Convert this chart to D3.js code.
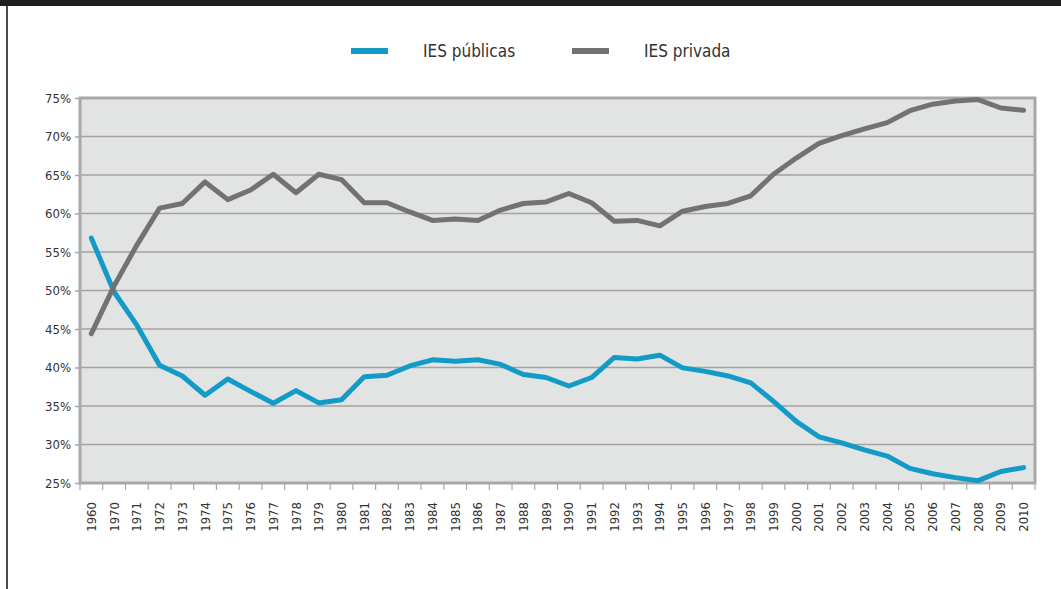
<!DOCTYPE html>
<html>
<head>
<meta charset="utf-8">
<script src="https://cdn.jsdelivr.net/npm/d3@7"></script>
<style>
  body { margin: 0; background: #fff; }
  svg text { font-family: "DejaVu Sans Condensed", "Liberation Sans Narrow", sans-serif; fill: #333; }
</style>
</head>
<body>
<div id="chart"></div>
<script>
let years = ["1960", "1970", "1971", "1972", "1973", "1974", "1975", "1976", "1977", "1978", "1979",
             "1980", "1981", "1982", "1983", "1984", "1985", "1986", "1987", "1988", "1989", "1990",
             "1991", "1992", "1993", "1994", "1995", "1996", "1997", "1998", "1999", "2000", "2001",
             "2002", "2003", "2004", "2005", "2006", "2007", "2008", "2009", "2010"];

let publicas = [56.8, 49.8, 45.5, 40.3, 38.9, 36.4, 38.5, 36.9, 35.35, 37.0, 35.4,
                35.8, 38.8, 39.0, 40.2, 41.0, 40.8, 41.0, 40.4, 39.1, 38.7, 37.6,
                38.7, 41.3, 41.1, 41.6, 39.95, 39.5, 38.9, 38.0, 35.6, 33.0, 31.0,
                30.2, 29.3, 28.5, 26.9, 26.2, 25.7, 25.3, 26.5, 27.0];

let privada = [44.4, 50.6, 55.9, 60.7, 61.3, 64.1, 61.8, 63.05, 65.1, 62.7, 65.1,
               64.4, 61.4, 61.4, 60.2, 59.1, 59.3, 59.1, 60.45, 61.3, 61.5, 62.6,
               61.4, 59.0, 59.1, 58.4, 60.3, 60.9, 61.3, 62.3, 65.1, 67.2, 69.1,
               70.1, 71.0, 71.8, 73.35, 74.2, 74.6, 74.8, 73.7, 73.4];

let y_ticks = [25, 30, 35, 40, 45, 50, 55, 60, 65, 70, 75];

let series = [
    {"name": "IES públicas", "values": publicas, "color": "#129bc6"},
    {"name": "IES privada", "values": privada, "color": "#727272"}
];

let width = 1061;
let height = 589;

let svg = d3.select("#chart")
    .append("svg")
    .attr("width", width)
    .attr("height", height);

// dark strip at the top and frame line on the left
svg.append("rect")
    .attr("x", 0).attr("y", 0)
    .attr("width", width).attr("height", 6)
    .attr("fill", "#1e1e1e");
svg.append("line")
    .attr("x1", 7).attr("x2", 7)
    .attr("y1", 6).attr("y2", height)
    .attr("stroke", "#111")
    .attr("stroke-width", 1.5);

let plot_left = 80;
let plot_right = 1035;
let plot_top = 98;
let plot_bottom = 483;

let xScale = d3.scaleBand()
    .domain(years)
    .range([plot_left, plot_right]);

let yScale = d3.scaleLinear()
    .domain([25, 75])
    .range([plot_bottom, plot_top]);

// plot background
svg.append("rect")
    .attr("x", plot_left)
    .attr("y", plot_top)
    .attr("width", plot_right - plot_left)
    .attr("height", plot_bottom - plot_top)
    .attr("fill", "#e2e4e3");

// horizontal grid
svg.selectAll(".grid")
    .data(y_ticks)
    .enter()
    .append("line")
    .attr("class", "grid")
    .attr("x1", plot_left)
    .attr("x2", plot_right)
    .attr("y1", function(d) { return yScale(d); })
    .attr("y2", function(d) { return yScale(d); })
    .attr("stroke", "#a2a2a2")
    .attr("stroke-width", 1.5);

// frame of the plot
svg.append("rect")
    .attr("x", plot_left)
    .attr("y", plot_top)
    .attr("width", plot_right - plot_left)
    .attr("height", plot_bottom - plot_top)
    .attr("fill", "none")
    .attr("stroke", "#a8a8a8")
    .attr("stroke-width", 3);

// y axis
let y_axis = svg.append("g")
    .attr("transform", "translate(" + plot_left + ",0)")
    .call(d3.axisLeft(yScale)
        .tickValues(y_ticks)
        .tickSize(5)
        .tickPadding(4)
        .tickFormat(function(d) { return d + "%"; }));
y_axis.select(".domain").remove();
y_axis.selectAll(".tick line").attr("stroke", "#a8a8a8").attr("stroke-width", 1.5);
y_axis.selectAll("text").attr("font-size", "13px").style("fill", "#333");

// x axis ticks at category boundaries
let boundaries = years.map(function(d) { return xScale(d); }).concat([plot_right]);
svg.selectAll(".xtick")
    .data(boundaries)
    .enter()
    .append("line")
    .attr("class", "xtick")
    .attr("x1", function(d) { return d; })
    .attr("x2", function(d) { return d; })
    .attr("y1", plot_bottom)
    .attr("y2", plot_bottom + 7)
    .attr("stroke", "#a8a8a8")
    .attr("stroke-width", 1.2);

svg.selectAll(".xlabel")
    .data(years)
    .enter()
    .append("text")
    .attr("class", "xlabel")
    .attr("transform", function(d) {
        let cx = xScale(d) + xScale.bandwidth() / 2;
        return "translate(" + cx + "," + (plot_bottom + 19) + ") rotate(-90)";
    })
    .attr("text-anchor", "end")
    .attr("dominant-baseline", "central")
    .attr("font-size", "13px")
    .text(function(d) { return d; });

// lines
let line = d3.line()
    .x(function(d, i) { return xScale(years[i]) + xScale.bandwidth() / 2; })
    .y(function(d) { return yScale(d); });

svg.selectAll(".series")
    .data(series)
    .enter()
    .append("path")
    .attr("class", "series")
    .attr("d", function(d) { return line(d.values); })
    .attr("fill", "none")
    .attr("stroke", function(d) { return d.color; })
    .attr("stroke-width", 5)
    .attr("stroke-linejoin", "round")
    .attr("stroke-linecap", "round");

// legend
let legend_x = [351, 572];
let legend = svg.selectAll(".legend")
    .data(series)
    .enter()
    .append("g")
    .attr("class", "legend")
    .attr("transform", function(d, i) { return "translate(" + legend_x[i] + ",51)"; });

legend.append("line")
    .attr("x1", 0).attr("x2", 37)
    .attr("y1", 0).attr("y2", 0)
    .attr("stroke", function(d) { return d.color; })
    .attr("stroke-width", 6);

legend.append("text")
    .attr("x", 72)
    .attr("y", 0)
    .attr("dominant-baseline", "central")
    .attr("font-size", "17px")
    .text(function(d) { return d.name; });
</script>
</body>
</html>
